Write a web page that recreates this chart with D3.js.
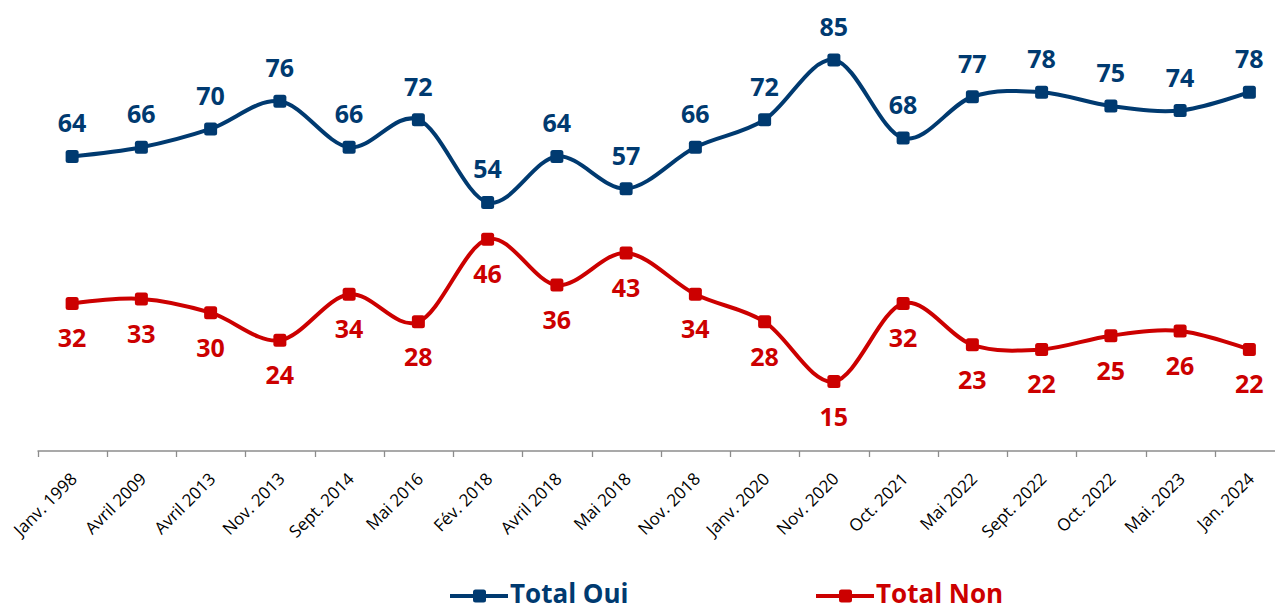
<!DOCTYPE html>
<html>
<head>
<meta charset="utf-8">
<script src="https://cdn.jsdelivr.net/npm/d3@7"></script>
<style>
  html, body { margin: 0; padding: 0; background: #fff; overflow: hidden; }
  svg { display: block; font-family: 'Open Sans', sans-serif; }
</style>
</head>
<body>
<div id="chart"></div>
<script>
// Chart data
const categories = ['Janv. 1998', 'Avril 2009', 'Avril 2013', 'Nov. 2013', 'Sept. 2014', 'Mai 2016',
  'Fév. 2018', 'Avril 2018', 'Mai 2018', 'Nov. 2018', 'Janv. 2020', 'Nov. 2020', 'Oct. 2021',
  'Mai 2022', 'Sept. 2022', 'Oct. 2022', 'Mai. 2023', 'Jan. 2024'];
const totalOui = [64, 66, 70, 76, 66, 72, 54, 64, 57, 66, 72, 85, 68, 77, 78, 75, 74, 78];
const totalNon = [32, 33, 30, 24, 34, 28, 46, 36, 43, 34, 28, 15, 32, 23, 22, 25, 26, 22];
const seriesNames = ['Total Oui', 'Total Non'];

const width = 1275;
const height = 611;
const blue = '#003A70';
const red = '#CC0000';

const svg = d3.select('#chart')
  .append('svg')
  .attr('width', width)
  .attr('height', height);

// Scales
const x = d3.scaleBand()
  .domain(categories)
  .range([37.5, 1284]);

const y = d3.scaleLinear()
  .domain([0, 85])
  .range([450.5, 60]);

const cx = d => x(d) + x.bandwidth() / 2;

// X axis: gray line with ticks at band edges
const axisY = 451;
svg.append('line')
  .attr('x1', 37.5).attr('x2', width)
  .attr('y1', axisY).attr('y2', axisY)
  .attr('stroke', '#8c8c8c')
  .attr('stroke-width', 1.3);

svg.selectAll('.tick-mark')
  .data(categories)
  .enter()
  .append('line')
  .attr('class', 'tick-mark')
  .attr('x1', d => Math.round(x(d)) + 0.5)
  .attr('x2', d => Math.round(x(d)) + 0.5)
  .attr('y1', axisY)
  .attr('y2', axisY + 6)
  .attr('stroke', '#8c8c8c')
  .attr('stroke-width', 1.3);

svg.selectAll('.cat-label')
  .data(categories)
  .enter()
  .append('text')
  .attr('class', 'cat-label')
  .attr('transform', d => `translate(${cx(d) + 6},${axisY + 29}) rotate(-45)`)
  .attr('text-anchor', 'end')
  .style('font-size', '17px')
  .style('fill', '#000')
  .text(d => d);

// Lines
const line = d3.line()
  .x((d, i) => cx(categories[i]))
  .y(d => y(d))
  .curve(d3.curveCatmullRom.alpha(0));

const series = [
  { name: seriesNames[0], values: totalOui, color: blue, labelDy: -24 },
  { name: seriesNames[1], values: totalNon, color: red, labelDy: 44 }
];

series.forEach(s => {
  svg.append('path')
    .datum(s.values)
    .attr('fill', 'none')
    .attr('stroke', s.color)
    .attr('stroke-width', 4)
    .attr('d', line);

  svg.selectAll(null)
    .data(s.values)
    .enter()
    .append('rect')
    .attr('x', (d, i) => cx(categories[i]) - 6.5)
    .attr('y', d => y(d) - 6.5)
    .attr('width', 13)
    .attr('height', 13)
    .attr('rx', 2.5)
    .attr('fill', s.color);

  svg.selectAll(null)
    .data(s.values)
    .enter()
    .append('text')
    .attr('x', (d, i) => cx(categories[i]))
    .attr('y', d => y(d) + s.labelDy)
    .attr('text-anchor', 'middle')
    .style('font-size', '25px')
    .style('font-weight', 'bold')
    .style('fill', s.color)
    .text(d => d);
});

// Legend
const legendX = [450, 816];
series.forEach((s, i) => {
  const g = svg.append('g')
    .attr('transform', `translate(${legendX[i]},596)`);
  g.append('line')
    .attr('x1', 0).attr('x2', 58)
    .attr('y1', 0).attr('y2', 0)
    .attr('stroke', s.color)
    .attr('stroke-width', 4);
  g.append('rect')
    .attr('x', 23).attr('y', -6.5)
    .attr('width', 13).attr('height', 13)
    .attr('rx', 2.5)
    .attr('fill', s.color);
  g.append('text')
    .attr('x', 60)
    .attr('y', 7)
    .style('font-size', '26px')
    .style('font-weight', 'bold')
    .style('fill', s.color)
    .text(s.name);
});
</script>
</body>
</html>
